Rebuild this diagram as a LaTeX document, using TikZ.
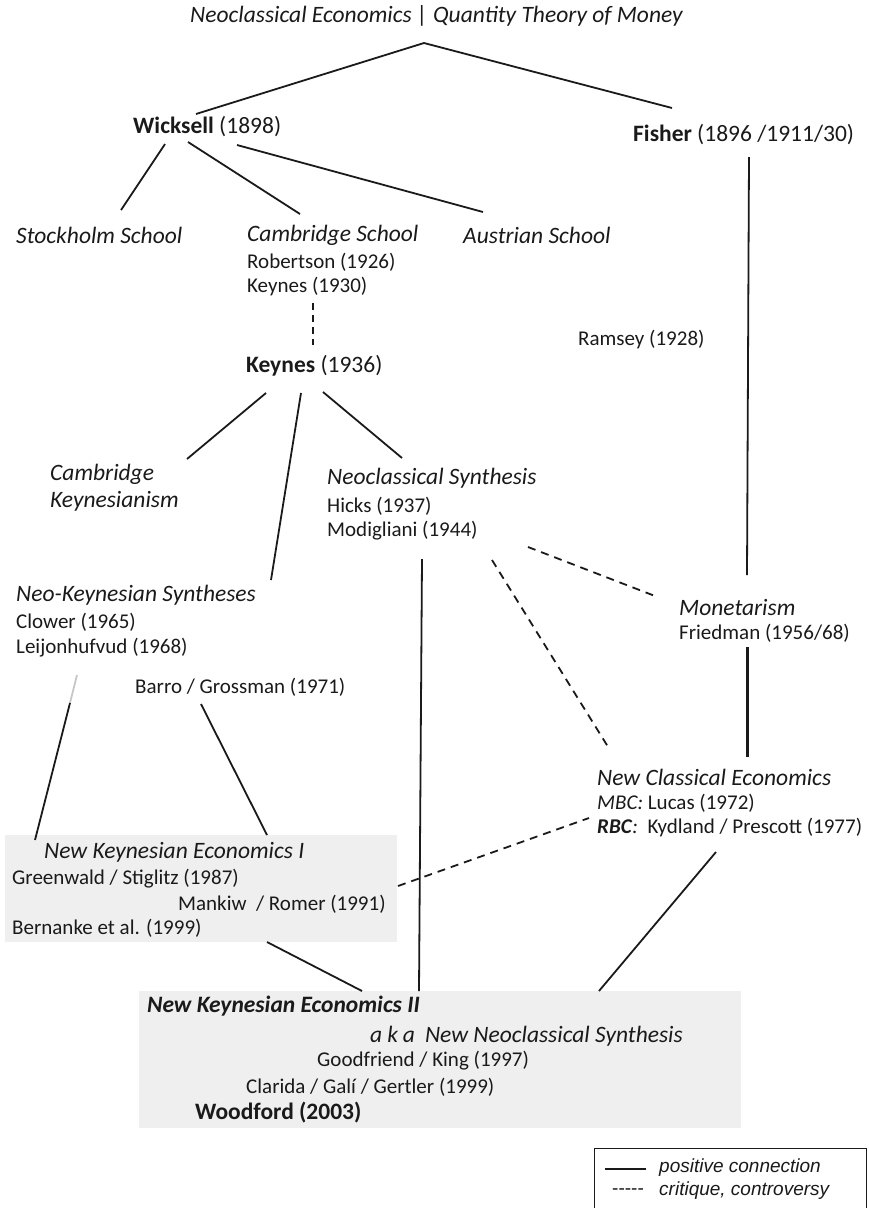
\documentclass[tikz,border=0pt]{standalone}
\usepackage{fontspec}
\setmainfont{Carlito}
\newfontfamily\legfont{Liberation Sans}
\definecolor{boxgrey}{HTML}{EFEFEF}
\definecolor{ink}{HTML}{1A1A1A}
\newcommand{\itl}{\fontsize{23.5}{27}\selectfont\itshape}
\newcommand{\bigf}{\fontsize{23.5}{27}\selectfont}
\newcommand{\bigb}{\fontsize{23.5}{27}\selectfont\bfseries}
\begin{document}
\begin{tikzpicture}[x=1pt,y=-1pt,
  txt/.style={anchor=west, inner sep=0pt, font=\fontsize{21}{25}\selectfont, text=ink},
  leg/.style={anchor=west, inner sep=0pt, font=\legfont\fontsize{19}{22}\selectfont, text=ink},
  posline/.style={line width=1.8pt, ink},
  crit/.style={line width=1.8pt, ink, dash pattern=on 8pt off 6pt},
  critthin/.style={line width=1.4pt, ink, dash pattern=on 7pt off 5pt},
  strong/.style={line width=3pt, ink},
  gbox/.style={fill=boxgrey, draw=none, anchor=north west, inner sep=0pt},
  legbox/.style={draw=ink, line width=1.2pt, fill=white, anchor=north west, inner sep=0pt}
]
\useasboundingbox (0,0) rectangle (868,1208);

% grey boxes
\node[gbox, minimum width=392pt, minimum height=107pt] (box1) at (5,835) {};
\node[gbox, minimum width=602pt, minimum height=137pt] (box2) at (139,991) {};

% texts
\node[txt] (title) at (190,16) {\itl Neoclassical Economics | Quantity Theory of Money};
\node[txt] (wick) at (133,127) {\bigf\textbf{Wicksell} (1898)};
\node[txt] (fisher) at (633,135) {\bigf\textbf{Fisher} (1896 /1911/30)};
\node[txt] (stock) at (16,235) {\itl Stockholm School};
\node[txt] (camb) at (247,235) {\itl Cambridge School};
\node[txt] (rob) at (247,262) {Robertson (1926)};
\node[txt] (k30) at (247,287) {Keynes (1930)};
\node[txt] (aust) at (463,235) {\itl Austrian School};
\node[txt] (ramsey) at (578,340) {Ramsey (1928)};
\node[txt] (k36) at (246,366) {\bigf\textbf{Keynes} (1936)};
\node[txt] (ck1) at (50,474) {\itl Cambridge};
\node[txt] (ck2) at (50,501) {\itl Keynesianism};
\node[txt] (ns) at (327,478) {\itl Neoclassical Synthesis};
\node[txt] (hicks) at (327,506) {Hicks (1937)};
\node[txt] (modi) at (327,531) {Modigliani (1944)};
\node[txt] (nks) at (16,595) {\itl Neo-Keynesian Syntheses};
\node[txt] (clower) at (16,622) {Clower (1965)};
\node[txt] (leij) at (16,648) {Leijonhufvud (1968)};
\node[txt] (barro) at (135,687) {Barro / Grossman (1971)};
\node[txt] (mon) at (679,607) {\itl Monetarism};
\node[txt] (fried) at (679,633) {Friedman (1956/68)};
\node[txt] (nce) at (597,777) {\itl New Classical Economics};
\node[txt] (mbc) at (597,803) {\textit{MBC:} Lucas (1972)};
\node[txt] (rbc) at (597,828) {\textbf{\textit{RBC}}\textit{:}\ \ Kydland / Prescott (1977)};

\node[txt] (nke1) at (44,852) {\itl New Keynesian Economics I};
\node[txt] (green) at (12,879) {Greenwald / Stiglitz (1987)};
\node[txt] (mankiw) at (178,904) {Mankiw\ \ / Romer (1991)};
\node[txt] (bern) at (12,928) {Bernanke et al. (1999)};

\node[txt] (nke2) at (147,1006) {\bigb\itshape New Keynesian Economics II};
\node[txt] (aka) at (370,1036) {\itl a\hspace{5pt}k\hspace{5pt}a\hspace{10pt}New Neoclassical Synthesis};
\node[txt] (goodf) at (317,1061) {Goodfriend / King (1997)};
\node[txt] (clar) at (246,1087) {Clarida / Galí / Gertler (1999)};
\node[txt] (wood) at (195,1113) {\bigb Woodford (2003)};

% connectors
\draw[posline] ([shift={(234,27)}]title.west) -- ([shift={(63,-13)}]wick.west);
\draw[posline] ([shift={(234,27)}]title.west) -- ([shift={(39,-27)}]fisher.west);
\draw[posline] ([shift={(32,17)}]wick.west) -- ([shift={(105,-25)}]stock.west);
\draw[posline] ([shift={(55,15)}]wick.west) -- ([shift={(53,-21)}]camb.west);
\draw[posline] ([shift={(104,18)}]wick.west) -- ([shift={(20,-23)}]aust.west);
\draw[critthin] ([shift={(66,16)}]k30.west) -- ([shift={(67,-21)}]k36.west);
\draw[posline] ([shift={(20,27)}]k36.west) -- ([shift={(137,-15)}]ck1.west);
\draw[posline] ([shift={(55,27)}]k36.west) -- ([shift={(255,-15)}]nks.west);
\draw[posline] ([shift={(77,26)}]k36.west) -- ([shift={(75,-20)}]ns.west);
\draw[posline] ([shift={(116,22)}]fisher.west) -- ([shift={(68,-32)}]mon.west);
\draw[posline] ([shift={(95,28)}]modi.west) -- ([shift={(280,0)}]box2.north west);
\draw[crit] ([shift={(201,16)}]modi.west) -- ([shift={(-24,-11)}]mon.west);
\draw[crit] ([shift={(165,29)}]modi.west) -- ([shift={(13,-27)}]nce.west);
\coordinate (leijmid) at ([shift={(54,55)}]leij.west);
\draw[line width=1.8pt, gray!45] ([shift={(61,27)}]leij.west) -- (leijmid);
\draw[posline] (leijmid) -- ([shift={(30,5)}]box1.north west);
\draw[posline] ([shift={(66,17)}]barro.west) -- ([shift={(262,0)}]box1.north west);
\draw[strong] ([shift={(68,14)}]fried.west) -- ([shift={(150,-20)}]nce.west);
\draw[crit] ([shift={(393,51)}]box1.north west) -- ([shift={(-8,-10)}]rbc.west);
\draw[posline] ([shift={(119,24)}]rbc.west) -- ([shift={(460,0)}]box2.north west);
\draw[posline] ([shift={(262,107)}]box1.north west) -- ([shift={(223,0)}]box2.north west);

% legend
\node[legbox, minimum width=272pt, minimum height=70pt] (legend) at (594,1148) {};
\coordinate (ls1) at ([shift={(11,21)}]legend.north west);
\coordinate (ls2) at ([shift={(52,21)}]legend.north west);
\draw[line width=1.8pt, ink] (ls1) -- (ls2);
\node[leg] (legdash) at (612,1192) {-----};
\node[leg] (legpos) at (659,1168) {\itshape positive connection};
\node[leg] (legcrit) at (659,1191) {\itshape critique, controversy};
\end{tikzpicture}
\end{document}
